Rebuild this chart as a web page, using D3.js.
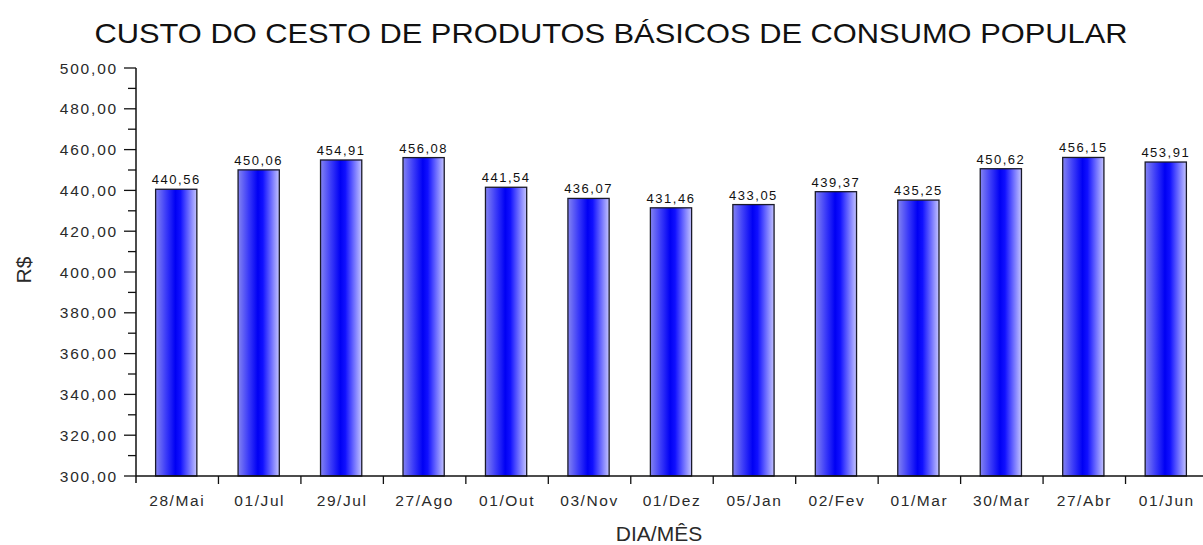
<!DOCTYPE html>
<html>
<head>
<meta charset="utf-8">
<script src="https://cdn.jsdelivr.net/npm/d3@7"></script>
<style>
  body { margin: 0; background: #fff; }
  text { font-family: Arial, "Liberation Sans", sans-serif; fill: #111; }
</style>
</head>
<body>
<div id="chart"></div>
<script>
var categories = ["28/Mai", "01/Jul", "29/Jul", "27/Ago", "01/Out", "03/Nov", "01/Dez",
                  "05/Jan", "02/Fev", "01/Mar", "30/Mar", "27/Abr", "01/Jun"];
var values = [440.56, 450.06, 454.91, 456.08, 441.54, 436.07, 431.46,
              433.05, 439.37, 435.25, 450.62, 456.15, 453.91];
var yMajorTicks = [300, 320, 340, 360, 380, 400, 420, 440, 460, 480, 500];
var yMinorTicks = [310, 330, 350, 370, 390, 410, 430, 450, 470, 490];

var W = 1203, H = 545;
var comma = function(v) { return d3.format(".2f")(v).replace(".", ","); };

var svg = d3.select("#chart").append("svg")
    .attr("width", W).attr("height", H);

var x = d3.scaleBand().domain(categories).range([136, 1208]).padding(0);
var y = d3.scaleLinear().domain([300, 500]).range([476, 68]);

// gradient for the bars
var grad = svg.append("defs").append("linearGradient")
    .attr("id", "barGrad").attr("x1", "0%").attr("x2", "100%").attr("y1", "0%").attr("y2", "0%");
grad.append("stop").attr("offset", "0%").attr("stop-color", "#8484f2");
grad.append("stop").attr("offset", "25%").attr("stop-color", "#3c3cf8");
grad.append("stop").attr("offset", "48%").attr("stop-color", "#0000f4");
grad.append("stop").attr("offset", "60%").attr("stop-color", "#1010ff");
grad.append("stop").attr("offset", "100%").attr("stop-color", "#c4c4ff");

// title
svg.append("text")
    .attr("x", 611).attr("y", 43)
    .attr("text-anchor", "middle")
    .attr("textLength", 1033).attr("lengthAdjust", "spacingAndGlyphs")
    .style("font-size", "28px")
    .text("CUSTO DO CESTO DE PRODUTOS BÁSICOS DE CONSUMO POPULAR");

// bars
var bw = x.bandwidth() * 0.5;
svg.selectAll("rect.bar")
    .data(values)
    .enter().append("rect")
    .attr("class", "bar")
    .attr("x", function(d, i) { return x(categories[i]) + x.bandwidth() / 2 - bw / 2 - 1; })
    .attr("y", function(d) { return y(d); })
    .attr("width", bw)
    .attr("height", function(d) { return y(300) - y(d); })
    .attr("fill", "url(#barGrad)")
    .attr("stroke", "#1a1a2a")
    .attr("stroke-width", 1.3);

// value labels
svg.selectAll("text.val")
    .data(values)
    .enter().append("text")
    .attr("class", "val")
    .attr("x", function(d, i) { return x(categories[i]) + x.bandwidth() / 2 - 1; })
    .attr("y", function(d) { return y(d) - 5; })
    .attr("text-anchor", "middle")
    .style("font-size", "13px")
    .style("letter-spacing", "1.5px")
    .text(comma);

// y axis
var yAxis = svg.append("g");
yAxis.append("line").attr("x1", 136).attr("x2", 136).attr("y1", y(500)).attr("y2", y(300) + 7)
    .attr("stroke", "#111").attr("stroke-width", 1.5);
yAxis.selectAll("line.maj").data(yMajorTicks).enter().append("line")
    .attr("x1", 124).attr("x2", 136)
    .attr("y1", function(d) { return y(d); }).attr("y2", function(d) { return y(d); })
    .attr("stroke", "#111").attr("stroke-width", 1.3);
yAxis.selectAll("line.min").data(yMinorTicks).enter().append("line")
    .attr("x1", 128).attr("x2", 136)
    .attr("y1", function(d) { return y(d); }).attr("y2", function(d) { return y(d); })
    .attr("stroke", "#111").attr("stroke-width", 1.3);
yAxis.selectAll("text").data(yMajorTicks).enter().append("text")
    .attr("x", 118).attr("y", function(d) { return y(d) + 5.5; })
    .attr("text-anchor", "end")
    .style("font-size", "15.5px")
    .style("letter-spacing", "1.8px")
    .style("fill", "#2a2a2a")
    .text(comma);

// x axis
var xAxis = svg.append("g");
xAxis.append("line").attr("x1", 136).attr("x2", W).attr("y1", y(300)).attr("y2", y(300))
    .attr("stroke", "#111").attr("stroke-width", 1.5);
xAxis.selectAll("line.tk").data(categories.slice(1)).enter().append("line")
    .attr("x1", function(d) { return x(d); }).attr("x2", function(d) { return x(d); })
    .attr("y1", y(300)).attr("y2", y(300) + 8)
    .attr("stroke", "#111").attr("stroke-width", 1.3);
xAxis.selectAll("text").data(categories).enter().append("text")
    .attr("x", function(d) { return x(d) + x.bandwidth() / 2; })
    .attr("y", 506)
    .attr("text-anchor", "middle")
    .style("font-size", "15.5px")
    .style("letter-spacing", "1.6px")
    .style("fill", "#2a2a2a")
    .text(function(d) { return d; });

// axis titles
svg.append("text")
    .attr("x", 659).attr("y", 541)
    .attr("text-anchor", "middle")
    .style("font-size", "21px")
    .style("fill", "#2a2a2a")
    .text("DIA/MÊS");

svg.append("text")
    .attr("transform", "translate(31,270) rotate(-90)")
    .attr("text-anchor", "middle")
    .style("font-size", "21px")
    .style("fill", "#2a2a2a")
    .text("R$");
</script>
</body>
</html>
